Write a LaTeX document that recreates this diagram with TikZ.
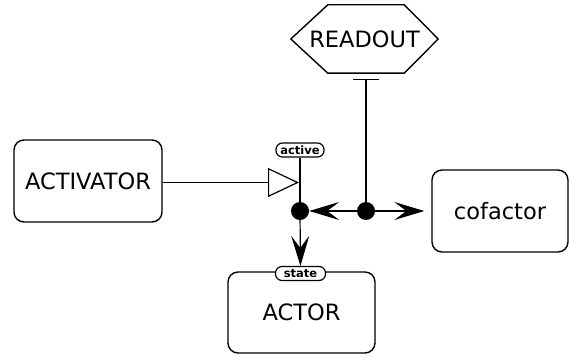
\documentclass[tikz,border=0pt]{standalone}
\usepackage{fontspec}
\setmainfont{DejaVu Sans}
\usetikzlibrary{arrows.meta}
\begin{document}
\begin{tikzpicture}[x=1pt,y=-1pt,
  entity/.style={draw, line width=1.4pt, rounded corners=10pt, inner sep=0pt,
    font=\fontsize{22.5}{26}\selectfont},
  tag/.style={draw, line width=1.2pt, fill=white, rounded corners=6.5pt, inner sep=0pt,
    minimum height=14pt, font=\bfseries\fontsize{11.5}{13}\selectfont},
  dotnode/.style={circle, fill=black, minimum size=18pt, inner sep=0pt},
  conn/.style={line width=1.2pt},
  stealthtip/.style={-{Stealth[length=30pt, width=18pt, inset=12pt]}},
]
\useasboundingbox (0,0) rectangle (570,358);
\fill[white] (0,0) rectangle (570,358);

\node[entity, minimum width=148pt, minimum height=82pt] (activator) at (88,181) {ACTIVATOR};
\node[entity, minimum width=136pt, minimum height=82pt] (cofactor) at (500,211) {cofactor};
\node[entity, minimum width=147pt, minimum height=81pt] (actor) at (301.5,312.5) {ACTOR};
\node[inner sep=0pt, minimum width=147pt, minimum height=68pt,
  font=\fontsize{22.5}{26}\selectfont] (readout) at (364.5,39) {READOUT};
\draw[line width=1.4pt] ([xshift=37pt]readout.north west) -- ([xshift=-34pt]readout.north east)
  -- (readout.east) -- ([xshift=-34pt]readout.south east) -- ([xshift=37pt]readout.south west)
  -- (readout.west) -- cycle;

\node[tag, minimum width=48pt] (active) at (300,150) {active};
\node[tag, minimum width=50pt] (state) at (300.5,273.5) {state};

\node[dotnode] (dot1) at (300,211) {};
\node[dotnode] (dot2) at (366,211) {};
\coordinate (stim) at (300,182.5);

% connectors
\draw[conn] (active) -- (dot1);
\draw[conn, -{Triangle[open, length=31pt, width=29pt, line width=1.2pt]}, shorten >=1pt]
  (activator.east |- stim) -- (stim);
\draw[conn, stealthtip] (dot2) -- (dot1);
\draw[conn, stealthtip, shorten >=7pt] (dot2) -- (cofactor.west |- dot2);
\draw[conn, stealthtip] (dot1) -- (state);
\draw[conn, -{Bar[width=26pt, line width=1.2pt]}, shorten >=6pt] (dot2) -- (readout.south -| dot2);
\end{tikzpicture}
\end{document}
